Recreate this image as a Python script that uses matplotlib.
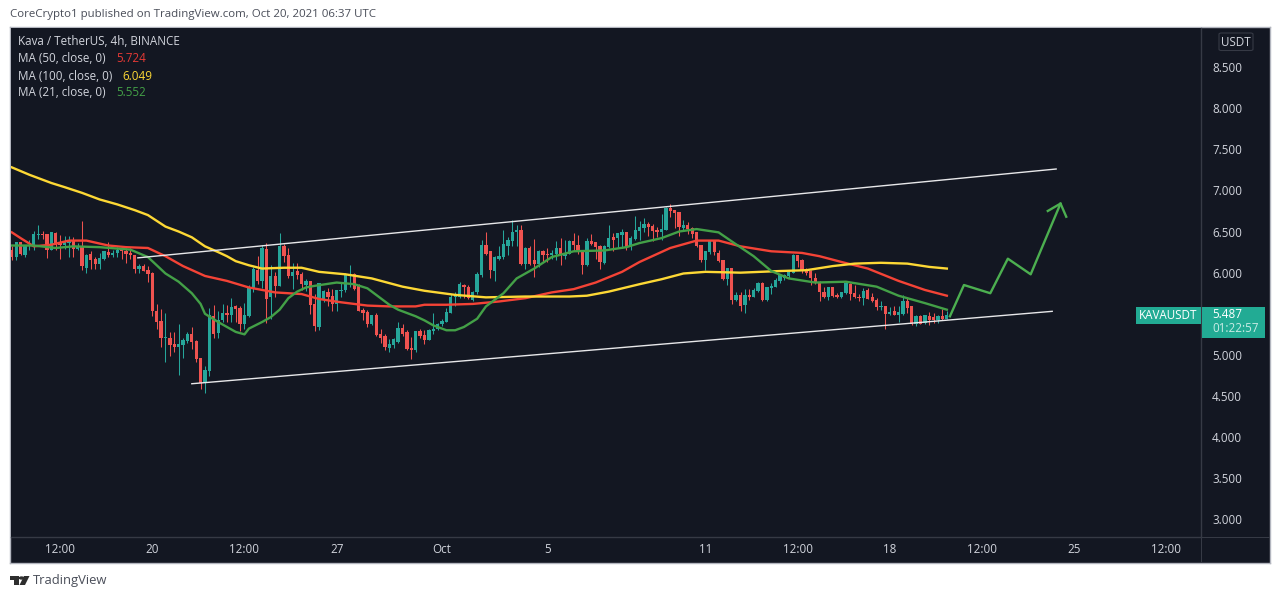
import numpy as np
import matplotlib
matplotlib.use("Agg")
import matplotlib.pyplot as plt
from matplotlib.patches import FancyBboxPatch, Polygon, Rectangle

# Bars are 4h candles, counted from Sep 20 00:00
FIRST_BAR = -32

opens = [
    6.28, 6.19, 6.37, 6.21, 6.32, 6.32, 6.46, 6.47, 6.47, 6.28,
    6.48, 6.36, 6.34, 6.36, 6.39, 6.29, 6.31, 6.06, 6.23, 6.17,
    6.11, 6.17, 6.25, 6.22, 6.24, 6.28, 6.26, 6.24, 6.22, 6.04,
    6.08, 6.03, 6.00, 5.53, 5.41, 5.20, 5.21, 5.13, 5.10, 5.12,
    5.17, 5.25, 5.17, 4.96, 4.66, 4.81, 5.47, 5.27, 5.42, 5.51,
    5.48, 5.60, 5.57, 5.38, 5.47, 5.81, 6.03, 5.90, 6.29, 5.70,
    5.96, 5.84, 6.33, 6.21, 5.96, 6.02, 5.98, 5.85, 5.90, 5.62,
    5.34, 5.67, 5.77, 5.72, 5.62, 5.78, 5.79, 5.96, 5.98, 5.84,
    5.55, 5.52, 5.38, 5.48, 5.25, 5.23, 5.09, 5.12, 5.16, 5.33,
    5.28, 5.08, 5.06, 5.29, 5.24, 5.18, 5.29, 5.31, 5.37, 5.40,
    5.51, 5.70, 5.70, 5.85, 5.82, 5.67, 5.76, 5.97, 6.34, 6.26,
    6.02, 6.17, 6.19, 6.32, 6.38, 6.50, 6.52, 6.11, 6.30, 6.15,
    6.11, 6.26, 6.23, 6.22, 6.23, 6.30, 6.20, 6.23, 6.39, 6.34,
    6.26, 6.09, 6.39, 6.37, 6.32, 6.12, 6.31, 6.43, 6.42, 6.46,
    6.50, 6.31, 6.41, 6.51, 6.54, 6.59, 6.57, 6.52, 6.49, 6.52,
    6.79, 6.76, 6.74, 6.54, 6.58, 6.54, 6.49, 6.34, 6.15, 6.25,
    6.38, 6.24, 6.15, 5.92, 6.06, 5.67, 5.73, 5.61, 5.73, 5.70,
    5.78, 5.87, 5.67, 5.81, 5.83, 5.90, 5.94, 5.96, 5.99, 6.21,
    6.15, 6.05, 6.02, 5.93, 5.89, 5.77, 5.71, 5.82, 5.73, 5.71,
    5.75, 5.86, 5.75, 5.71, 5.69, 5.79, 5.70, 5.67, 5.58, 5.60,
    5.50, 5.53, 5.49, 5.50, 5.65, 5.59, 5.38, 5.47, 5.39, 5.47, 5.46, 5.42, 5.47, 5.44,
]
highs = [
    6.32, 6.37, 6.37, 6.34, 6.40, 6.51, 6.58, 6.51, 6.47, 6.50,
    6.49, 6.46, 6.45, 6.45, 6.43, 6.36, 6.63, 6.23, 6.26, 6.19,
    6.24, 6.26, 6.37, 6.28, 6.31, 6.28, 6.30, 6.30, 6.22, 6.11,
    6.11, 6.08, 6.01, 5.62, 5.56, 5.51, 5.28, 5.28, 5.38, 5.20,
    5.28, 5.34, 5.18, 4.96, 4.87, 5.57, 5.61, 5.53, 5.62, 5.61,
    5.69, 5.61, 5.60, 5.63, 5.85, 6.07, 6.20, 6.34, 6.36, 6.09,
    6.01, 6.48, 6.35, 6.30, 6.12, 6.12, 6.01, 5.92, 5.90, 5.74,
    5.87, 5.79, 5.81, 5.80, 5.79, 5.87, 5.99, 6.09, 5.99, 5.86,
    5.57, 5.55, 5.49, 5.51, 5.32, 5.25, 5.19, 5.20, 5.40, 5.38,
    5.30, 5.22, 5.29, 5.31, 5.30, 5.32, 5.51, 5.39, 5.44, 5.57,
    5.74, 5.76, 5.89, 5.86, 5.85, 5.78, 6.01, 6.40, 6.49, 6.26,
    6.20, 6.32, 6.52, 6.43, 6.64, 6.58, 6.58, 6.31, 6.32, 6.41,
    6.28, 6.28, 6.30, 6.28, 6.38, 6.42, 6.40, 6.40, 6.48, 6.46,
    6.28, 6.42, 6.47, 6.37, 6.34, 6.34, 6.58, 6.48, 6.48, 6.53,
    6.50, 6.44, 6.69, 6.63, 6.66, 6.61, 6.59, 6.55, 6.71, 6.80,
    6.84, 6.76, 6.74, 6.64, 6.61, 6.55, 6.50, 6.34, 6.26, 6.38,
    6.40, 6.28, 6.15, 6.06, 6.06, 5.76, 5.77, 5.80, 5.80, 5.81,
    5.89, 5.89, 5.83, 5.88, 5.93, 5.98, 5.98, 6.03, 6.23, 6.22,
    6.17, 6.06, 6.03, 5.99, 5.90, 5.83, 5.83, 5.83, 5.75, 5.77,
    5.90, 5.87, 5.85, 5.74, 5.81, 5.81, 5.75, 5.69, 5.65, 5.60,
    5.58, 5.59, 5.60, 5.73, 5.71, 5.60, 5.49, 5.49, 5.49, 5.52, 5.51, 5.49, 5.56, 5.54,
]
lows = [
    6.16, 6.16, 6.21, 6.19, 6.28, 6.28, 6.41, 6.41, 6.18, 6.27,
    6.28, 6.17, 6.29, 6.19, 6.19, 6.28, 6.03, 6.00, 6.04, 6.05,
    6.05, 6.16, 6.19, 6.19, 6.19, 6.17, 6.12, 6.17, 6.00, 6.00,
    6.02, 5.89, 5.47, 5.32, 5.10, 4.92, 4.99, 5.03, 4.76, 4.96,
    5.14, 5.07, 4.91, 4.59, 4.54, 4.74, 5.20, 5.21, 5.40, 5.40,
    5.40, 5.40, 5.29, 5.32, 5.46, 5.76, 5.86, 5.81, 5.39, 5.44,
    5.71, 5.84, 6.13, 5.94, 5.80, 5.92, 5.79, 5.78, 5.50, 5.29,
    5.30, 5.64, 5.59, 5.54, 5.54, 5.71, 5.77, 5.83, 5.79, 5.53,
    5.42, 5.34, 5.36, 5.23, 5.15, 5.06, 5.03, 5.08, 5.14, 5.23,
    5.06, 4.95, 5.04, 5.21, 5.13, 5.18, 5.26, 5.30, 5.35, 5.40,
    5.51, 5.59, 5.69, 5.69, 5.68, 5.65, 5.74, 5.95, 6.22, 5.94,
    5.90, 6.16, 6.17, 6.22, 6.32, 6.32, 6.09, 6.04, 6.09, 5.95,
    6.07, 6.13, 6.13, 6.17, 6.15, 6.09, 6.17, 6.23, 6.26, 6.23,
    5.98, 6.08, 6.34, 6.17, 6.05, 6.11, 6.30, 6.26, 6.30, 6.30,
    6.28, 6.28, 6.40, 6.40, 6.50, 6.44, 6.39, 6.43, 6.40, 6.52,
    6.68, 6.54, 6.45, 6.52, 6.47, 6.42, 6.31, 6.13, 6.03, 6.23,
    6.22, 6.13, 5.91, 5.85, 5.62, 5.65, 5.53, 5.51, 5.67, 5.70,
    5.77, 5.66, 5.66, 5.74, 5.82, 5.87, 5.91, 5.94, 5.99, 6.07,
    5.99, 5.97, 5.85, 5.86, 5.66, 5.69, 5.67, 5.71, 5.69, 5.69,
    5.74, 5.67, 5.69, 5.65, 5.61, 5.68, 5.64, 5.55, 5.55, 5.32,
    5.48, 5.49, 5.40, 5.49, 5.51, 5.36, 5.35, 5.38, 5.38, 5.36, 5.39, 5.39, 5.42, 5.44,
]
closes = [
    6.19, 6.37, 6.23, 6.34, 6.34, 6.47, 6.47, 6.46, 6.28, 6.49,
    6.34, 6.34, 6.37, 6.40, 6.29, 6.32, 6.08, 6.21, 6.15, 6.11,
    6.18, 6.26, 6.21, 6.24, 6.28, 6.26, 6.23, 6.21, 6.04, 6.08,
    6.02, 5.98, 5.53, 5.40, 5.20, 5.21, 5.12, 5.10, 5.13, 5.18,
    5.25, 5.16, 4.95, 4.66, 4.82, 5.48, 5.26, 5.43, 5.51, 5.48,
    5.58, 5.56, 5.38, 5.49, 5.82, 6.05, 5.90, 6.30, 5.68, 5.96,
    5.84, 6.33, 6.20, 5.96, 6.01, 5.97, 5.86, 5.90, 5.61, 5.35,
    5.87, 5.78, 5.70, 5.62, 5.79, 5.79, 5.98, 5.98, 5.80, 5.54,
    5.51, 5.38, 5.48, 5.24, 5.20, 5.10, 5.13, 5.19, 5.33, 5.26,
    5.07, 5.06, 5.29, 5.23, 5.18, 5.30, 5.32, 5.38, 5.41, 5.52,
    5.71, 5.73, 5.86, 5.82, 5.69, 5.76, 5.98, 6.34, 6.23, 6.03,
    6.19, 6.20, 6.35, 6.40, 6.50, 6.52, 6.11, 6.30, 6.11, 6.11,
    6.26, 6.22, 6.22, 6.24, 6.30, 6.21, 6.23, 6.39, 6.34, 6.25,
    6.09, 6.39, 6.35, 6.31, 6.13, 6.32, 6.42, 6.40, 6.48, 6.50,
    6.30, 6.42, 6.52, 6.56, 6.59, 6.56, 6.51, 6.50, 6.53, 6.79,
    6.75, 6.73, 6.56, 6.58, 6.53, 6.47, 6.32, 6.15, 6.26, 6.38,
    6.25, 6.14, 5.92, 6.06, 5.67, 5.73, 5.60, 5.73, 5.70, 5.79,
    5.87, 5.67, 5.82, 5.84, 5.91, 5.97, 5.97, 6.01, 6.21, 6.14,
    6.03, 6.00, 5.93, 5.88, 5.77, 5.71, 5.82, 5.72, 5.71, 5.77,
    5.87, 5.74, 5.70, 5.69, 5.78, 5.68, 5.66, 5.58, 5.59, 5.50,
    5.52, 5.49, 5.52, 5.65, 5.57, 5.38, 5.47, 5.38, 5.48, 5.42, 5.42, 5.47, 5.44, 5.49,
]

ma100_bars = [-32, -28, -25, -23, -20, -16, -12, -8, -4, -1, 1, 3, 6, 9, 12, 15, 17, 19, 22, 25, 30,
              34, 38, 44, 50, 57, 62, 69, 76, 85, 95, 99, 104, 111, 116, 121, 126, 134, 143, 149,
              155, 160, 166, 172, 177, 181]
ma100_vals = [7.28, 7.19, 7.13, 7.09, 7.04, 6.97, 6.89, 6.83, 6.76, 6.70, 6.63, 6.56, 6.50, 6.43,
              6.32, 6.25, 6.20, 6.14, 6.09, 6.05, 6.06, 6.06, 6.01, 5.98, 5.93, 5.83, 5.78, 5.73,
              5.70, 5.71, 5.71, 5.72, 5.77, 5.86, 5.92, 5.99, 6.01, 6.00, 6.02, 6.03, 6.08, 6.11,
              6.12, 6.11, 6.07, 6.05]

ma50_bars = [-32, -30, -27, -23, -19, -15, -10, -6, -1, 3, 7, 12, 17, 22, 28, 34, 38, 43, 49, 54,
             60, 62, 67, 73, 79, 85, 91, 96, 101, 107, 111, 118, 124, 129, 134, 141, 148, 152,
             157, 163, 170, 176, 181]
ma50_vals = [6.49, 6.42, 6.32, 6.34, 6.39, 6.39, 6.33, 6.31, 6.30, 6.20, 6.08, 5.96, 5.90, 5.82,
             5.76, 5.74, 5.68, 5.64, 5.60, 5.59, 5.59, 5.61, 5.61, 5.62, 5.65, 5.69, 5.76, 5.80,
             5.88, 6.01, 6.13, 6.30, 6.39, 6.39, 6.32, 6.26, 6.24, 6.20, 6.13, 6.05, 5.90, 5.79,
             5.72]

ma21_bars = [-32, -27, -22, -18, -12, -5, -1, 1, 3, 6, 9, 11, 12, 15, 17, 19, 21, 22, 25, 27, 29, 31,
             33, 35, 37, 42, 46, 49, 52, 54, 56, 60, 62, 64, 67, 69, 71, 74, 76, 80, 83, 87, 91, 96,
             103, 108, 111, 116, 120, 124, 129, 132, 137, 141, 145, 151, 158, 165, 170, 176, 181]
ma21_vals = [6.33, 6.33, 6.30, 6.32, 6.31, 6.28, 6.19, 6.09, 5.99, 5.89, 5.75, 5.62, 5.50, 5.40,
             5.34, 5.28, 5.25, 5.32, 5.40, 5.46, 5.55, 5.69, 5.77, 5.82, 5.84, 5.88, 5.86, 5.81,
             5.69, 5.61, 5.55, 5.47, 5.42, 5.36, 5.30, 5.30, 5.34, 5.44, 5.59, 5.75, 5.93, 6.05,
             6.19, 6.26, 6.27, 6.31, 6.36, 6.42, 6.50, 6.53, 6.49, 6.38, 6.20, 6.02, 5.93, 5.88,
             5.89, 5.83, 5.72, 5.63, 5.55]

# Hand-drawn channel and projection from the published idea
upper_bars = [-3.3, 205.9]
upper_vals = [6.18, 7.26]
lower_bars = [9.0, 205.0]
lower_vals = [4.65, 5.53]
arrow_bars = [181.7, 184.9, 190.9, 194.9, 200.1, 206.9]
arrow_vals = [5.47, 5.85, 5.75, 6.17, 5.98, 6.84]
head_bars = [204.0, 206.9, 208.2]
head_vals = [6.75, 6.84, 6.68]

price_ticks = [3.0, 3.5, 4.0, 4.5, 5.0, 5.5, 6.0, 6.5, 7.0, 7.5, 8.0, 8.5]
time_ticks = [-21, 0, 21, 42, 66, 90, 126, 147, 168, 189, 210, 231]
time_labels = ["12:00", "20", "12:00", "27", "Oct", "5", "11", "12:00", "18", "12:00", "25", "12:00"]

legend_names = ["MA (50, close, 0)", "MA (100, close, 0)", "MA (21, close, 0)"]
legend_values = ["5.724", "6.049", "5.552"]
legend_colors = ["#e53935", "#fdd835", "#43a047"]
legend_value_x = [116, 122, 116]

W, H = 1280, 598
BG = "#131722"
UP = "#26a69a"
DOWN = "#ef5350"
FONT = "Open Sans"
TXT = 8.35


def fx(x):
    return x / W


def fy(y):
    return 1 - y / H


def fig_text(x, y, s, **kw):
    kw.setdefault("fontsize", TXT)
    kw.setdefault("family", FONT)
    kw.setdefault("va", "center")
    fig.text(fx(x), fy(y), s, **kw)


def fig_box(x0, y0, x1, y1, **kw):
    fig.add_artist(Rectangle((fx(x0), fy(y1)), fx(x1 - x0), (y1 - y0) / H,
                             transform=fig.transFigure, **kw))


fig = plt.figure(figsize=(W / 100, H / 100), dpi=100, facecolor="white")

# outer frame
frame = fig.add_axes([fx(10), fy(562.5), fx(1260), 535.5 / H], facecolor=BG)
frame.set_xticks([])
frame.set_yticks([])
for s in frame.spines.values():
    s.set_color("#b2b5be")
    s.set_linewidth(1)

ax = fig.add_axes([fx(11), fy(537), fx(1190), 509 / H], facecolor=BG)
ax.set_xlim(-32.19, 238.9)
ax.set_ylim(2.787, 8.974)

bars = np.arange(len(closes)) + FIRST_BAR
o = np.array(opens)
c = np.array(closes)
colors = np.where(c >= o, UP, DOWN)
ax.vlines(bars, lows, highs, colors=colors, linewidth=0.75, zorder=2)
ax.bar(bars, np.maximum(np.abs(c - o), 0.012), bottom=np.minimum(o, c), width=0.75,
       color=colors, linewidth=0, zorder=3)

ax.plot(ma50_bars, ma50_vals, color="#f44336", lw=1.7, zorder=4)
ax.plot(ma100_bars, ma100_vals, color="#fdd835", lw=1.7, zorder=4)
ax.plot(ma21_bars, ma21_vals, color="#43a047", lw=1.7, zorder=4)

ax.plot(upper_bars, upper_vals, color="#e8e8ea", lw=1, zorder=5)
ax.plot(lower_bars, lower_vals, color="#e8e8ea", lw=1, zorder=5)
ax.plot(arrow_bars, arrow_vals, color="#4caf50", lw=1.7, zorder=5)
ax.plot(head_bars, head_vals, color="#4caf50", lw=1.7, zorder=5)

ax.yaxis.tick_right()
ax.set_yticks(price_ticks)
ax.set_yticklabels([f"{p:.3f}" for p in price_ticks], fontsize=TXT, family=FONT, color="#d1d4dc")
ax.set_xticks(time_ticks)
ax.set_xticklabels(time_labels, fontsize=TXT, family=FONT, color="#d1d4dc")
ax.tick_params(axis="y", length=0, pad=8)
ax.tick_params(axis="x", length=0, pad=4)
for name in ("top", "left"):
    ax.spines[name].set_visible(False)
for name in ("bottom", "right"):
    ax.spines[name].set_color("#363a45")
    ax.spines[name].set_linewidth(1)

# the axis separators run on to the outer frame
fig_box(1200.5, 537, 1201.5, 562, facecolor="#363a45", edgecolor="none")
fig_box(1201, 536.5, 1269.5, 537.5, facecolor="#363a45", edgecolor="none")

# header, legend
fig_text(10, 14.5, "CoreCrypto1 published on TradingView.com, Oct 20, 2021 06:37 UTC",
         color="#4a4e59", fontsize=8.25)
fig_text(18, 41.5, "Kava / TetherUS, 4h, BINANCE", color="#d1d4dc")
for i, name in enumerate(legend_names):
    y = 59 + i * 17
    fig_text(18, y, name, color="#d1d4dc")
    fig_text(legend_value_x[i], y, legend_values[i], color=legend_colors[i])

# USDT badge
fig.add_artist(FancyBboxPatch(
    (fx(1219), fy(50.5)), fx(34), 17.5 / H, boxstyle="round,pad=0,rounding_size=0.002",
    transform=fig.transFigure, facecolor=BG, edgecolor="#363a45", linewidth=0.8, zorder=6))
fig_text(1236, 42, "USDT", color="#d1d4dc", ha="center", zorder=7)

# last price tags
fig_box(1136, 307, 1200.5, 324, facecolor="#22ab94", edgecolor="none", zorder=6)
fig_box(1202, 307, 1265, 338, facecolor="#22ab94", edgecolor="none", zorder=6)
fig_text(1168, 315.5, "KAVAUSDT", color="white", ha="center", zorder=7)
fig_text(1212, 315, "5.487", color="white", zorder=7)
fig_text(1212, 329, "01:22:57", color="#c8ebe5", zorder=7)

# TradingView footer
logo = "#2e2e2e"
fig.add_artist(Polygon([(fx(10), fy(576)), (fx(19), fy(576)), (fx(19), fy(585)), (fx(14), fy(585)),
                        (fx(14), fy(580)), (fx(10), fy(580))],
                       transform=fig.transFigure, facecolor=logo, edgecolor="none"))
fig.add_artist(Polygon([(fx(24), fy(576)), (fx(29.5), fy(576)), (fx(25), fy(585)), (fx(19.5), fy(585))],
                       transform=fig.transFigure, facecolor=logo, edgecolor="none"))
fig.add_artist(plt.Circle((fx(21.5), fy(578)), 0.0016, transform=fig.transFigure, color=logo))
fig_text(33, 580.5, "TradingView", color="#4a4e59", fontsize=9.4)

fig.savefig("out.png", dpi=100)
